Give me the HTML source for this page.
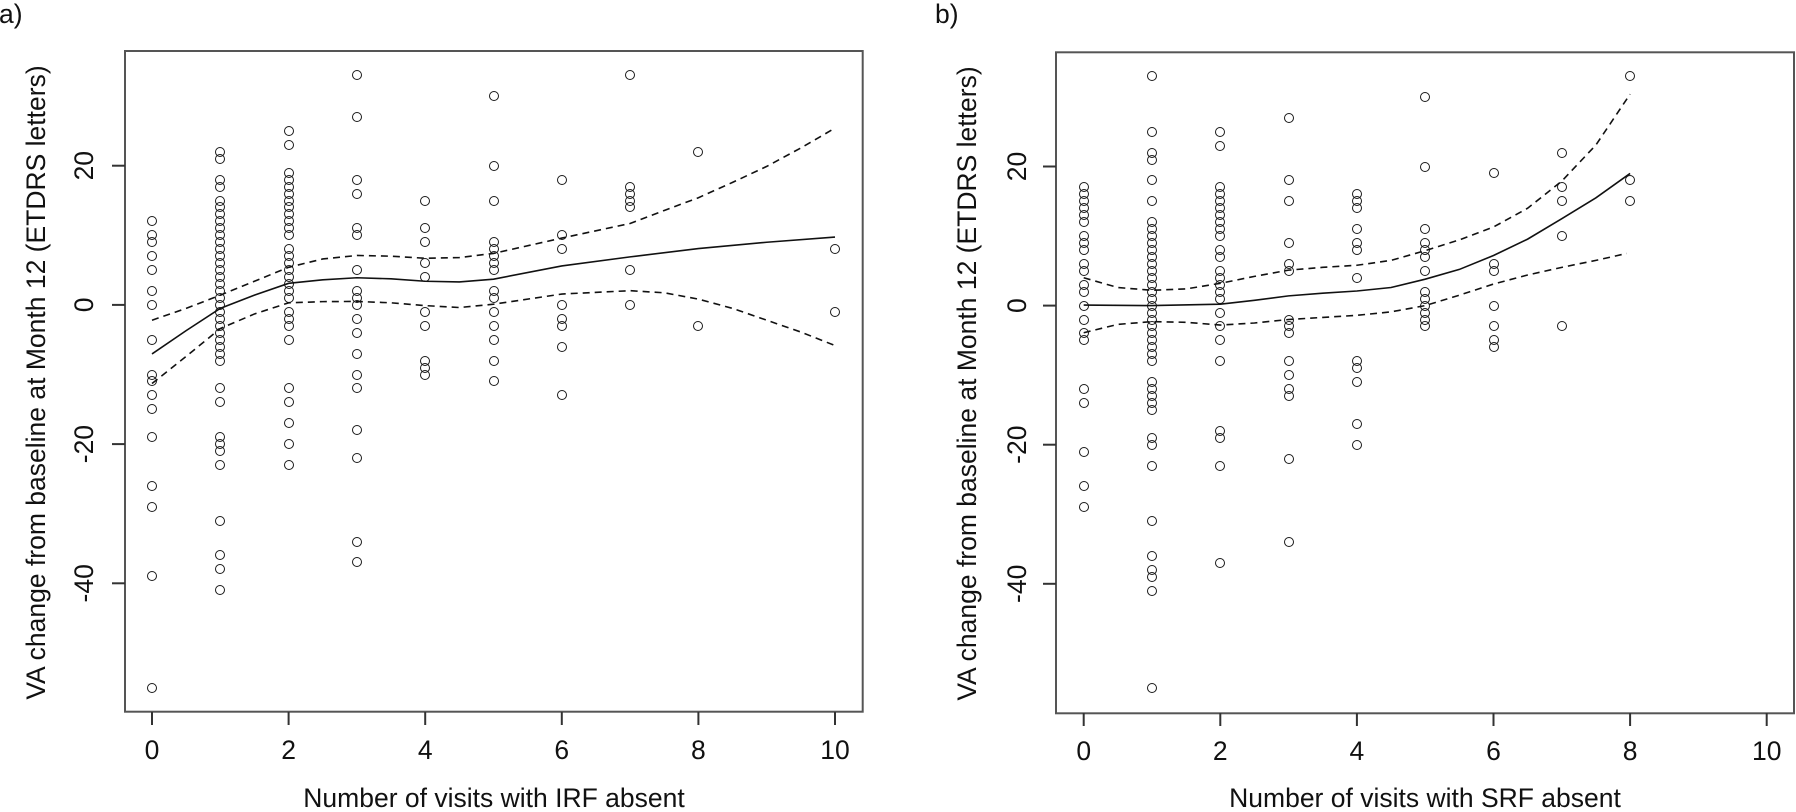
<!DOCTYPE html>
<html><head><meta charset="utf-8">
<style>
html,body{margin:0;padding:0;background:#fff;}
body{width:1796px;height:812px;overflow:hidden;position:relative;font-family:"Liberation Sans",Arial,sans-serif;}
.pa{--x0:152px;--sx:68.3px;--y0:304.9px;--sy:6.96px;}
.pb{--x0:1083.7px;--sx:68.3px;--y0:305.6px;--sy:6.955px;}
.pa i,.pb i{position:absolute;width:10px;height:10px;margin:-5px 0 0 -5px;border:1.6px solid #1a1a1a;border-radius:50%;box-sizing:border-box;
left:calc(var(--x0) + var(--x) * var(--sx));top:calc(var(--y0) - var(--v) * var(--sy));}
svg{position:absolute;left:0;top:0;}
svg text{font-family:"Liberation Sans",Arial,sans-serif;font-size:26.5px;fill:#111;}
</style></head><body>

<div class="pa">
<div style="--x:0"><i style="--v:12"></i><i style="--v:10"></i><i style="--v:9"></i><i style="--v:7"></i><i style="--v:5"></i><i style="--v:2"></i><i style="--v:0"></i><i style="--v:-5"></i><i style="--v:-10"></i><i style="--v:-11"></i><i style="--v:-13"></i><i style="--v:-15"></i><i style="--v:-19"></i><i style="--v:-26"></i><i style="--v:-29"></i><i style="--v:-39"></i><i style="--v:-55"></i></div>
<div style="--x:1"><i style="--v:22"></i><i style="--v:21"></i><i style="--v:18"></i><i style="--v:17"></i><i style="--v:15"></i><i style="--v:14"></i><i style="--v:13"></i><i style="--v:12"></i><i style="--v:11"></i><i style="--v:10"></i><i style="--v:9"></i><i style="--v:8"></i><i style="--v:7"></i><i style="--v:6"></i><i style="--v:5"></i><i style="--v:4"></i><i style="--v:3"></i><i style="--v:2"></i><i style="--v:1"></i><i style="--v:0"></i><i style="--v:-1"></i><i style="--v:-2"></i><i style="--v:-3"></i><i style="--v:-4"></i><i style="--v:-5"></i><i style="--v:-6"></i><i style="--v:-7"></i><i style="--v:-8"></i><i style="--v:-12"></i><i style="--v:-14"></i><i style="--v:-19"></i><i style="--v:-20"></i><i style="--v:-21"></i><i style="--v:-23"></i><i style="--v:-31"></i><i style="--v:-36"></i><i style="--v:-38"></i><i style="--v:-41"></i></div>
<div style="--x:2"><i style="--v:25"></i><i style="--v:23"></i><i style="--v:19"></i><i style="--v:18"></i><i style="--v:17"></i><i style="--v:16"></i><i style="--v:15"></i><i style="--v:14"></i><i style="--v:13"></i><i style="--v:12"></i><i style="--v:11"></i><i style="--v:10"></i><i style="--v:8"></i><i style="--v:7"></i><i style="--v:6"></i><i style="--v:5"></i><i style="--v:4"></i><i style="--v:3"></i><i style="--v:2"></i><i style="--v:1"></i><i style="--v:-1"></i><i style="--v:-2"></i><i style="--v:-3"></i><i style="--v:-5"></i><i style="--v:-12"></i><i style="--v:-14"></i><i style="--v:-17"></i><i style="--v:-20"></i><i style="--v:-23"></i></div>
<div style="--x:3"><i style="--v:33"></i><i style="--v:27"></i><i style="--v:18"></i><i style="--v:16"></i><i style="--v:11"></i><i style="--v:10"></i><i style="--v:5"></i><i style="--v:2"></i><i style="--v:1"></i><i style="--v:0"></i><i style="--v:-2"></i><i style="--v:-4"></i><i style="--v:-7"></i><i style="--v:-10"></i><i style="--v:-12"></i><i style="--v:-18"></i><i style="--v:-22"></i><i style="--v:-34"></i><i style="--v:-37"></i></div>
<div style="--x:4"><i style="--v:15"></i><i style="--v:11"></i><i style="--v:9"></i><i style="--v:6"></i><i style="--v:4"></i><i style="--v:-1"></i><i style="--v:-3"></i><i style="--v:-8"></i><i style="--v:-9"></i><i style="--v:-10"></i></div>
<div style="--x:5"><i style="--v:30"></i><i style="--v:20"></i><i style="--v:15"></i><i style="--v:9"></i><i style="--v:8"></i><i style="--v:7"></i><i style="--v:6"></i><i style="--v:5"></i><i style="--v:2"></i><i style="--v:1"></i><i style="--v:-1"></i><i style="--v:-3"></i><i style="--v:-5"></i><i style="--v:-8"></i><i style="--v:-11"></i></div>
<div style="--x:6"><i style="--v:18"></i><i style="--v:10"></i><i style="--v:8"></i><i style="--v:0"></i><i style="--v:-2"></i><i style="--v:-3"></i><i style="--v:-6"></i><i style="--v:-13"></i></div>
<div style="--x:7"><i style="--v:33"></i><i style="--v:17"></i><i style="--v:16"></i><i style="--v:15"></i><i style="--v:14"></i><i style="--v:5"></i><i style="--v:0"></i></div>
<div style="--x:8"><i style="--v:22"></i><i style="--v:-3"></i></div>
<div style="--x:10"><i style="--v:8"></i><i style="--v:-1"></i></div>
</div>

<div class="pb">
<div style="--x:0"><i style="--v:17"></i><i style="--v:16"></i><i style="--v:15"></i><i style="--v:14"></i><i style="--v:13"></i><i style="--v:12"></i><i style="--v:10"></i><i style="--v:9"></i><i style="--v:8"></i><i style="--v:6"></i><i style="--v:5"></i><i style="--v:3"></i><i style="--v:2"></i><i style="--v:0"></i><i style="--v:-2"></i><i style="--v:-4"></i><i style="--v:-5"></i><i style="--v:-12"></i><i style="--v:-14"></i><i style="--v:-21"></i><i style="--v:-26"></i><i style="--v:-29"></i></div>
<div style="--x:1"><i style="--v:33"></i><i style="--v:25"></i><i style="--v:22"></i><i style="--v:21"></i><i style="--v:18"></i><i style="--v:15"></i><i style="--v:12"></i><i style="--v:11"></i><i style="--v:10"></i><i style="--v:9"></i><i style="--v:8"></i><i style="--v:7"></i><i style="--v:6"></i><i style="--v:5"></i><i style="--v:4"></i><i style="--v:3"></i><i style="--v:2"></i><i style="--v:1"></i><i style="--v:0"></i><i style="--v:-1"></i><i style="--v:-2"></i><i style="--v:-3"></i><i style="--v:-4"></i><i style="--v:-5"></i><i style="--v:-6"></i><i style="--v:-7"></i><i style="--v:-8"></i><i style="--v:-11"></i><i style="--v:-12"></i><i style="--v:-13"></i><i style="--v:-14"></i><i style="--v:-15"></i><i style="--v:-19"></i><i style="--v:-20"></i><i style="--v:-23"></i><i style="--v:-31"></i><i style="--v:-36"></i><i style="--v:-38"></i><i style="--v:-39"></i><i style="--v:-41"></i><i style="--v:-55"></i></div>
<div style="--x:2"><i style="--v:25"></i><i style="--v:23"></i><i style="--v:17"></i><i style="--v:16"></i><i style="--v:15"></i><i style="--v:14"></i><i style="--v:13"></i><i style="--v:12"></i><i style="--v:11"></i><i style="--v:10"></i><i style="--v:8"></i><i style="--v:7"></i><i style="--v:5"></i><i style="--v:4"></i><i style="--v:3"></i><i style="--v:2"></i><i style="--v:1"></i><i style="--v:-1"></i><i style="--v:-3"></i><i style="--v:-5"></i><i style="--v:-8"></i><i style="--v:-18"></i><i style="--v:-19"></i><i style="--v:-23"></i><i style="--v:-37"></i></div>
<div style="--x:3"><i style="--v:27"></i><i style="--v:18"></i><i style="--v:15"></i><i style="--v:9"></i><i style="--v:6"></i><i style="--v:5"></i><i style="--v:-2"></i><i style="--v:-3"></i><i style="--v:-4"></i><i style="--v:-8"></i><i style="--v:-10"></i><i style="--v:-12"></i><i style="--v:-13"></i><i style="--v:-22"></i><i style="--v:-34"></i></div>
<div style="--x:4"><i style="--v:16"></i><i style="--v:15"></i><i style="--v:14"></i><i style="--v:11"></i><i style="--v:9"></i><i style="--v:8"></i><i style="--v:4"></i><i style="--v:-8"></i><i style="--v:-9"></i><i style="--v:-11"></i><i style="--v:-17"></i><i style="--v:-20"></i></div>
<div style="--x:5"><i style="--v:30"></i><i style="--v:20"></i><i style="--v:11"></i><i style="--v:9"></i><i style="--v:8"></i><i style="--v:7"></i><i style="--v:5"></i><i style="--v:2"></i><i style="--v:1"></i><i style="--v:0"></i><i style="--v:-1"></i><i style="--v:-2"></i><i style="--v:-3"></i></div>
<div style="--x:6"><i style="--v:19"></i><i style="--v:6"></i><i style="--v:5"></i><i style="--v:0"></i><i style="--v:-3"></i><i style="--v:-5"></i><i style="--v:-6"></i></div>
<div style="--x:7"><i style="--v:22"></i><i style="--v:17"></i><i style="--v:15"></i><i style="--v:10"></i><i style="--v:-3"></i></div>
<div style="--x:8"><i style="--v:33"></i><i style="--v:18"></i><i style="--v:15"></i></div>
</div>

<svg width="1796" height="812" viewBox="0 0 1796 812" xmlns="http://www.w3.org/2000/svg">
<!-- Panel a frame -->
<rect x="125" y="51" width="737.7" height="660.7" fill="none" stroke="#555" stroke-width="2"/>
<g stroke="#333" stroke-width="2">
<line x1="152" y1="712" x2="152" y2="725"/><line x1="288.6" y1="712" x2="288.6" y2="725"/><line x1="425.2" y1="712" x2="425.2" y2="725"/><line x1="561.8" y1="712" x2="561.8" y2="725"/><line x1="698.4" y1="712" x2="698.4" y2="725"/><line x1="835" y1="712" x2="835" y2="725"/>
<line x1="112" y1="165.7" x2="125" y2="165.7"/><line x1="112" y1="304.9" x2="125" y2="304.9"/><line x1="112" y1="444.1" x2="125" y2="444.1"/><line x1="112" y1="583.3" x2="125" y2="583.3"/>
</g>
<g text-anchor="middle">
<text x="152" y="759">0</text><text x="288.6" y="759">2</text><text x="425.2" y="759">4</text><text x="561.8" y="759">6</text><text x="698.4" y="759">8</text><text x="835" y="759">10</text>
<text transform="translate(93,165.7) rotate(-90)">20</text>
<text transform="translate(93,304.9) rotate(-90)">0</text>
<text transform="translate(93,444.1) rotate(-90)">-20</text>
<text transform="translate(93,583.3) rotate(-90)">-40</text>
<text x="494" y="807">Number of visits with IRF absent</text>
<text transform="translate(45,382.5) rotate(-90)">VA change from baseline at Month 12 (ETDRS letters)</text>
</g>
<text x="-1" y="23">a)</text>

<g fill="none" stroke="#111" stroke-width="1.6">
<polyline points="152,353.97 186.15,330.65 220.3,308.38 254.45,295.16 288.6,283.32 322.75,279.84 356.9,277.76 391.05,278.8 425.2,281.24 459.35,281.93 493.5,279.15 561.8,265.92 630.1,256.88 698.4,248.52 766.7,242.26 835,237.04"/>
<polyline stroke-dasharray="7 5" points="152,320.21 186.15,308.38 220.3,295.16 254.45,281.24 288.6,267.32 322.75,258.96 356.9,255.48 391.05,256.18 425.2,258.27 459.35,257.57 493.5,253.4 561.8,238.08 630.1,223.47 664.25,210.45 698.4,197.7 732.55,182.4 766.7,166.4 800.85,147.95 835,128.12"/>
<polyline stroke-dasharray="7 5" points="152,383.55 186.15,356.4 220.3,328.56 254.45,313.95 288.6,302.81 322.75,301.63 356.9,301.42 391.05,302.81 425.2,305.6 459.35,307.54 493.5,304.2 561.8,294.04 630.1,290.7 664.25,292.79 698.4,299.12 732.55,308.38 766.7,320.21 800.85,332.04 835,345.55"/>
</g>

<!-- Panel b frame -->
<rect x="1056" y="52.3" width="738" height="661" fill="none" stroke="#555" stroke-width="2"/>
<g stroke="#333" stroke-width="2">
<line x1="1083.7" y1="713" x2="1083.7" y2="726"/><line x1="1220.3" y1="713" x2="1220.3" y2="726"/><line x1="1356.9" y1="713" x2="1356.9" y2="726"/><line x1="1493.5" y1="713" x2="1493.5" y2="726"/><line x1="1630.1" y1="713" x2="1630.1" y2="726"/><line x1="1766.7" y1="713" x2="1766.7" y2="726"/>
<line x1="1043" y1="166.5" x2="1056" y2="166.5"/><line x1="1043" y1="305.6" x2="1056" y2="305.6"/><line x1="1043" y1="444.7" x2="1056" y2="444.7"/><line x1="1043" y1="583.8" x2="1056" y2="583.8"/>
</g>
<g text-anchor="middle">
<text x="1083.7" y="760">0</text><text x="1220.3" y="760">2</text><text x="1356.9" y="760">4</text><text x="1493.5" y="760">6</text><text x="1630.1" y="760">8</text><text x="1766.7" y="760">10</text>
<text transform="translate(1026,166.5) rotate(-90)">20</text>
<text transform="translate(1026,305.6) rotate(-90)">0</text>
<text transform="translate(1026,444.7) rotate(-90)">-20</text>
<text transform="translate(1026,583.8) rotate(-90)">-40</text>
<text x="1425" y="807">Number of visits with SRF absent</text>
<text transform="translate(976,383.5) rotate(-90)">VA change from baseline at Month 12 (ETDRS letters)</text>
</g>
<text x="935" y="23">b)</text>

<g fill="none" stroke="#111" stroke-width="1.6">
<polyline points="1083.7,305.04 1152,305.6 1220.3,304.21 1254.45,300.31 1288.6,295.86 1322.75,293.15 1356.9,291.0 1391.05,287.52 1425.2,279.17 1459.35,269.43 1493.5,255.52 1527.65,239.11 1561.8,218.66 1595.95,197.8 1630.1,173.45"/>
<polyline stroke-dasharray="7 5" points="1083.7,277.78 1117.85,287.52 1152,290.3 1186.15,288.91 1220.3,283.34 1254.45,276.39 1288.6,270.13 1322.75,267.35 1356.9,265.26 1391.05,260.39 1425.2,250.66 1459.35,239.88 1493.5,227.01 1527.65,208.23 1561.8,181.1 1595.95,144.94 1630.1,94.17"/>
<polyline stroke-dasharray="7 5" points="1083.7,332.72 1117.85,324.38 1152,321.6 1186.15,322.29 1220.3,325.07 1254.45,322.99 1288.6,319.51 1322.75,317.42 1356.9,315.34 1391.05,311.86 1425.2,305.6 1459.35,295.17 1493.5,284.04 1527.65,275.0 1561.8,267.35 1595.95,260.39 1626.7,253.44"/>
</g>
</svg>
</body></html>
